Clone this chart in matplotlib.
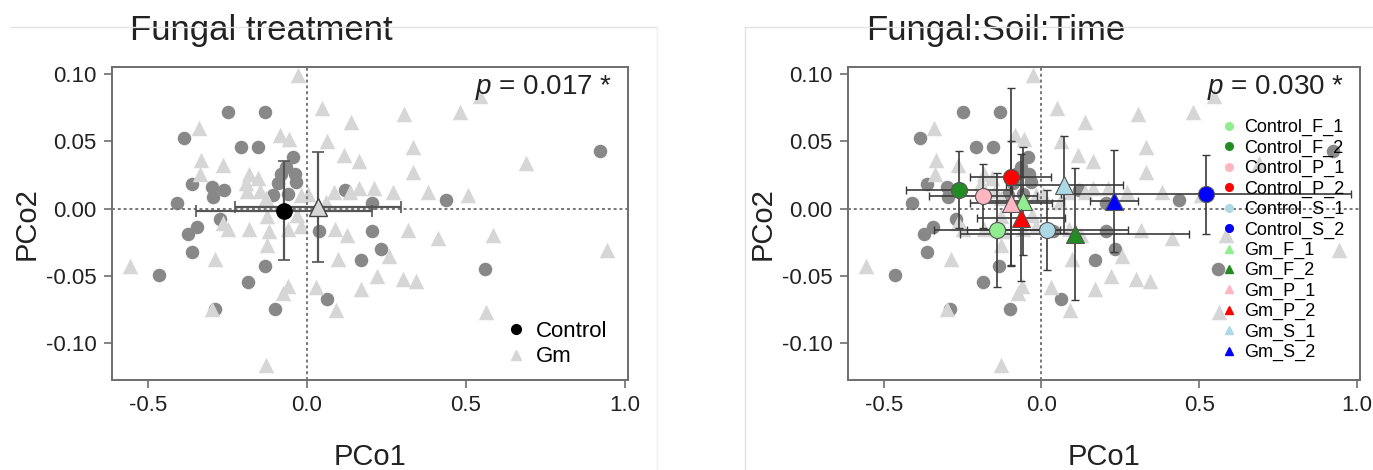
import matplotlib
matplotlib.use('Agg')
import matplotlib.pyplot as plt
from matplotlib.lines import Line2D

plt.rcParams['font.family'] = ['Liberation Sans', 'DejaVu Sans']
plt.rcParams['mathtext.fontset'] = 'custom'
plt.rcParams['mathtext.rm'] = 'Liberation Sans'
plt.rcParams['mathtext.it'] = 'Liberation Sans:italic'
plt.rcParams['axes.unicode_minus'] = False

# PCoA scores of the individual samples
ctrl_x = [-0.249, -0.131, -0.385, -0.208, -0.153, 0.923, -0.361, -0.298, -0.260,
          -0.296, -0.410, 0.436, 0.205, 0.120, -0.043, -0.065, -0.038, -0.081,
          -0.033, -0.091, -0.059, -0.107, -0.272, -0.345, -0.373, 0.038, 0.205,
          -0.362, 0.232, 0.170, -0.133, -0.464, 0.560, -0.186, 0.062, -0.289,
          -0.100]
ctrl_y = [0.072, 0.072, 0.0525, 0.046, 0.046, 0.043, 0.018, 0.016, 0.014,
          0.0085, 0.0043, 0.006, 0.004, 0.014, 0.038, 0.031, 0.026, 0.026,
          0.020, 0.019, 0.011, 0.010, -0.008, -0.014, -0.019, -0.017, -0.017,
          -0.0325, -0.030, -0.0385, -0.0426, -0.0495, -0.045, -0.055, -0.067,
          -0.0746, -0.075]

gm_x = [-0.028, 0.049, -0.340, 0.138, 0.306, 0.482, 0.546, -0.084, -0.055, 0.063,
        0.333, -0.334, -0.263, -0.336, 0.117, 0.165, 0.333, 0.689, -0.182, -0.155,
        -0.192, -0.146, -0.188, -0.129, -0.017, 0.084, 0.137, 0.163, 0.211, 0.271,
        0.381, 0.506, -0.127, -0.263, -0.247, -0.182, -0.118, -0.058, -0.018, 0.089,
        0.125, 0.317, 0.413, 0.585, 0.945, -0.127, -0.288, 0.097, 0.257, -0.555,
        0.221, 0.301, 0.344, 0.169, -0.060, -0.074, 0.030, -0.298, 0.091, 0.562,
        -0.128, 0.004, 0.060, -0.030]
gm_y = [0.099, 0.075, 0.0595, 0.0644, 0.070, 0.0716, 0.084, 0.0545, 0.052, 0.050,
        0.046, 0.036, 0.0324, 0.026, 0.040, 0.035, 0.0275, 0.0335, 0.026, 0.0224,
        0.0187, 0.013, 0.0128, 0.0076, 0.010, 0.0126, 0.0126, 0.0153, 0.015, 0.0126,
        0.0126, 0.0101, -0.0057, -0.0106, -0.0155, -0.0155, -0.0167, -0.015, -0.013,
        -0.0155, -0.020, -0.0162, -0.0216, -0.0197, -0.031, -0.027, -0.0377, -0.0377,
        -0.035, -0.0426, -0.050, -0.0524, -0.0537, -0.060, -0.0574, -0.063, -0.058,
        -0.0746, -0.0758, -0.077, -0.1165, 0.0106, 0.005, -0.005]

# Fungal treatment centroids (mean +/- sd)
fungal = ['Control', 'Gm']
fungal_x = [-0.072, 0.035]
fungal_y = [-0.0015, 0.001]
fungal_xerr = [0.277, 0.262]
fungal_yerr = [0.037, 0.041]

# Fungal:Soil:Time centroids
groups = ['Control_F_1', 'Control_F_2', 'Control_P_1', 'Control_P_2',
          'Control_S_1', 'Control_S_2', 'Gm_F_1', 'Gm_F_2', 'Gm_P_1',
          'Gm_P_2', 'Gm_S_1', 'Gm_S_2']
grp_x = [-0.141, -0.261, -0.185, -0.097, 0.018, 0.523,
         -0.057, 0.105, -0.095, -0.064, 0.073, 0.230]
grp_y = [-0.016, 0.014, 0.0092, 0.0236, -0.016, 0.0105,
         0.0055, -0.019, 0.0042, -0.0068, 0.0178, 0.0058]
grp_xerr = [0.20, 0.167, 0.17, 0.128, 0.255, 0.46,
            0.13, 0.363, 0.13, 0.14, 0.185, 0.075]
grp_yerr = [0.0425, 0.0285, 0.024, 0.066, 0.030, 0.0296,
            0.040, 0.049, 0.046, 0.047, 0.036, 0.038]
grp_colors = ['#90EE90', '#228B22', '#FFB6C1', '#FF0000', '#ADD8E6', '#0000FF'] * 2

p_left = '$p$ = 0.017 *'
p_right = '$p$ = 0.030 *'

W, H = 1373, 470
fig = plt.figure(figsize=(W / 100, H / 100), dpi=100)

# light panel borders behind the titles
fig.add_artist(Line2D([10 / W, 657 / W], [1 - 27 / H, 1 - 27 / H], color='#e4e4e4', lw=1))
fig.add_artist(Line2D([657 / W, 657 / W], [0, 1 - 27 / H], color='#f0f0f0', lw=1))
fig.add_artist(Line2D([745 / W, 1 - 0.5 / W], [1 - 27 / H, 1 - 27 / H], color='#e4e4e4', lw=1))
fig.add_artist(Line2D([745 / W, 745 / W], [0, 1 - 27 / H], color='#e4e4e4', lw=1))

ax1 = fig.add_axes([112 / W, 1 - 380 / H, 516 / W, 313 / H])
ax2 = fig.add_axes([848 / W, 1 - 380 / H, 512 / W, 313 / H])


def setup(ax, title, ptext):
    ax.scatter(ctrl_x, ctrl_y, s=95, marker='o', color='#888888', lw=0, zorder=2)
    ax.scatter(gm_x, gm_y, s=125, marker='^', color='#d6d6d6', lw=0, zorder=3)
    ax.axhline(0, color='#777777', lw=1.4, ls=(0, (1.5, 1.5)), zorder=4)
    ax.axvline(0, color='#777777', lw=1.4, ls=(0, (1.5, 1.5)), zorder=4)
    ax.set_xlim(-0.613, 1.01)
    ax.set_ylim(-0.1275, 0.1052)
    ax.set_xticks([-0.5, 0.0, 0.5, 1.0])
    ax.set_xticklabels(['-0.5', '0.0', '0.5', '1.0'])
    ax.set_yticks([-0.10, -0.05, 0.0, 0.05, 0.10])
    ax.set_yticklabels(['-0.10', '-0.05', '0.00', '0.05', '0.10'])
    ax.tick_params(direction='out', length=6, width=1.2, color='#6e6e6e',
                   labelsize=16, labelcolor='#222222', pad=5)
    for s in ax.spines.values():
        s.set_color('#6e6e6e')
        s.set_linewidth(1.4)
    ax.set_xlabel('PCo1', fontsize=21, labelpad=19, color='#222222')
    ax.set_ylabel('PCo2', fontsize=21, labelpad=4, color='#222222')
    ax.text(0.035, 1.118, title, transform=ax.transAxes, fontsize=25,
            ha='left', va='center', color='#222222')
    ax.text(0.97, 0.935, ptext, transform=ax.transAxes, fontsize=20,
            ha='right', va='center', color='#222222', zorder=6)


setup(ax1, 'Fungal treatment', p_left)
setup(ax2, 'Fungal:Soil:Time', p_right)

# Fungal treatment centroids
ax1.errorbar(fungal_x, fungal_y, xerr=fungal_xerr, yerr=fungal_yerr, fmt='none',
             ecolor='#555555', elinewidth=1.6, capsize=4, capthick=1.2, zorder=5)
ax1.plot(fungal_x[0], fungal_y[0], 'o', ms=11, color='black', zorder=6)
ax1.plot(fungal_x[1], fungal_y[1], '^', ms=13, mfc='#d6d6d6', mec='#444444', mew=1, zorder=6)

h1 = [Line2D([], [], ls='none', marker='o', ms=7, color='black', label=fungal[0]),
      Line2D([], [], ls='none', marker='^', ms=7, color='#d6d6d6', label=fungal[1])]
ax1.legend(handles=h1, loc='lower right', bbox_to_anchor=(0.96, 0.04), frameon=False,
           fontsize=16, handlelength=0.8, handletextpad=0.5, labelspacing=0.2,
           borderpad=0, borderaxespad=0)

# Fungal:Soil:Time centroids
ax2.errorbar(grp_x, grp_y, xerr=grp_xerr, yerr=grp_yerr, fmt='none',
             ecolor='#3a3a3a', elinewidth=1.2, capsize=3, capthick=1, zorder=5)
for i, g in enumerate(groups):
    if g.startswith('Control'):
        ax2.plot(grp_x[i], grp_y[i], 'o', ms=11.5, mfc=grp_colors[i], mec='#555555',
                 mew=0.8, zorder=6)
    else:
        ax2.plot(grp_x[i], grp_y[i], '^', ms=13.5, mfc=grp_colors[i], mec='#555555',
                 mew=0.8, zorder=6)

h2 = []
for i, g in enumerate(groups):
    m = 'o' if g.startswith('Control') else '^'
    h2.append(Line2D([], [], ls='none', marker=m, ms=5.5, color=grp_colors[i], label=g))
ax2.legend(handles=h2, loc='lower right', bbox_to_anchor=(0.97, 0.06), frameon=False,
           fontsize=13, handlelength=0.7, handletextpad=0.5, labelspacing=0.18,
           borderpad=0, borderaxespad=0)

fig.savefig('out.png', dpi=100)
